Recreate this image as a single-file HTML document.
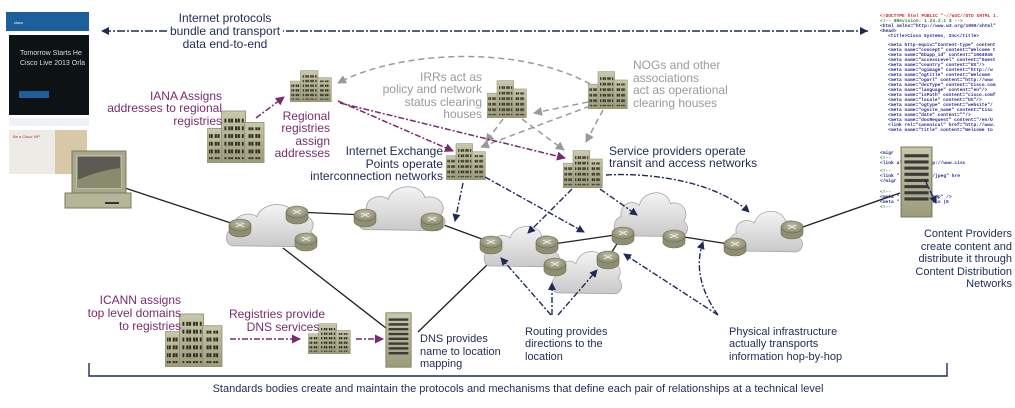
<!DOCTYPE html>
<html><head><meta charset="utf-8"><style>
html,body{margin:0;padding:0;background:#fff;}
svg{display:block;font-family:"Liberation Sans",sans-serif;}
.n{fill:#1f2b55;font-size:12px;}
.p{fill:#7b2a6f;font-size:12px;}
.g{fill:#9a9a9a;font-size:12px;}
.s{fill:#1f2b55;font-size:11px;}
.code{font-family:"Liberation Mono",monospace;font-size:4.6px;fill:#2a2a90;font-weight:bold;}
</style></head><body>
<svg width="1015" height="408" viewBox="0 0 1015 408" xmlns="http://www.w3.org/2000/svg">
<defs>
<linearGradient id="bg" x1="0" y1="0" x2="0" y2="1"><stop offset="0" stop-color="#c8c8aa"/><stop offset="1" stop-color="#9c9c7c"/></linearGradient>
<linearGradient id="cg" x1="0" y1="0" x2="0" y2="1"><stop offset="0" stop-color="#f4f4f4"/><stop offset="1" stop-color="#c9c9c9"/></linearGradient>
<radialGradient id="rg" cx="0.5" cy="0.4" r="0.6"><stop offset="0" stop-color="#c4c4aa"/><stop offset="1" stop-color="#85856a"/></radialGradient>
<pattern id="win" x="0" y="0" width="7" height="8" patternUnits="userSpaceOnUse"><rect x="1" y="1" width="2.2" height="4" fill="#2e2e22"/><rect x="3.8" y="1" width="2.2" height="4" fill="#2e2e22"/></pattern>
<symbol id="bld" viewBox="0 0 60 55" preserveAspectRatio="none">
<rect x="0" y="19" width="16" height="36" fill="url(#bg)" stroke="#8c8c70" stroke-width="0.8"/>
<rect x="15" y="1" width="25" height="54" fill="url(#bg)" stroke="#8c8c70" stroke-width="0.8"/>
<rect x="39" y="13" width="20" height="42" fill="url(#bg)" stroke="#8c8c70" stroke-width="0.8"/>
<rect x="18" y="6" width="20" height="45" fill="url(#win)"/>
<rect x="2" y="24" width="13" height="27" fill="url(#win)"/>
<rect x="42" y="18" width="15" height="33" fill="url(#win)"/>
</symbol>
<symbol id="srv" viewBox="0 0 30 70" preserveAspectRatio="none">
<rect x="1" y="1" width="28" height="68" fill="url(#bg)" stroke="#7a7a60"/>
<g fill="#3a3a3a"><rect x="4" y="8" width="22" height="3"/><rect x="4" y="14" width="22" height="3"/><rect x="4" y="20" width="22" height="3"/><rect x="4" y="26" width="22" height="3"/><rect x="4" y="32" width="22" height="3"/><rect x="4" y="38" width="22" height="3"/><rect x="4" y="44" width="22" height="3"/><rect x="4" y="50" width="22" height="3"/></g>
</symbol>
<symbol id="cloud" viewBox="0 0 100 60" preserveAspectRatio="none">
<path d="M10,55 C0,55 0,35 12,33 C8,20 25,12 35,20 C40,2 70,0 75,18 C90,14 100,28 92,38 C102,45 95,58 85,56 Z" fill="url(#cg)" stroke="#a8a8a8" stroke-width="1"/>
</symbol>
<symbol id="rt" viewBox="0 0 24 20">
<path d="M1,7 v6 a11,6 0 0 0 22,0 v-6" fill="#8e8e72" stroke="#6e6e58" stroke-width="0.6"/>
<ellipse cx="12" cy="7" rx="11" ry="6" fill="url(#rg)" stroke="#6e6e58" stroke-width="0.6"/>
<path d="M8,5 l8,4 M16,5 l-8,4" stroke="#eee" stroke-width="0.8"/>
</symbol>
<marker id="an" markerWidth="8" markerHeight="8" refX="7" refY="4" orient="auto" markerUnits="userSpaceOnUse"><path d="M0,0 L8,4 L0,8 Z" fill="#1f2b55"/></marker>
<marker id="ap" markerWidth="9" markerHeight="9" refX="8" refY="4.5" orient="auto" markerUnits="userSpaceOnUse"><path d="M0,0 L9,4.5 L0,9 Z" fill="#7b2a6f"/></marker>
<marker id="ag" markerWidth="9" markerHeight="9" refX="8" refY="4.5" orient="auto" markerUnits="userSpaceOnUse"><path d="M0,0 L9,4.5 L0,9 Z" fill="#999"/></marker>
</defs>

<!-- web page screenshot -->
<rect x="6" y="12" width="83" height="19" fill="#1d5f9a"/>
<text x="14" y="24" font-size="4" fill="#fff">cisco</text>
<rect x="9" y="35" width="80" height="80" fill="#0d1214"/>
<text x="20" y="55" font-size="7" fill="#ddd">Tomorrow Starts He</text>
<text x="20" y="65" font-size="7" fill="#ddd">Cisco Live 2013 Orla</text>
<rect x="19" y="91" width="30" height="7" fill="#1d5f9a"/>
<rect x="9" y="118" width="80" height="8" fill="#eef2f6"/>
<rect x="9" y="130" width="78" height="44" fill="#ecebe6"/>
<rect x="55" y="130" width="32" height="44" fill="#d8c8a8"/>
<text x="13" y="138" font-size="4" fill="#b0302a">Be a Cisco VIP</text>

<!-- code screenshot -->
<g class="code">
<text x="880" y="17" fill="#d03030">&lt;!DOCTYPE html PUBLIC "-//W3C//DTD XHTML 1.</text>
<text x="880" y="22" fill="#2a8a2a">&lt;!-- $Revision: 1.24.2.1 $ --&gt;</text>
<text x="880" y="27">&lt;html xmlns="http://www.w3.org/1999/xhtml"</text>
<text x="880" y="32">&lt;head&gt;</text>
<text x="888" y="37">&lt;title&gt;Cisco Systems, Inc&lt;/title&gt;</text>
<text x="888" y="46">&lt;meta http-equiv="Content-type" content</text>
<text x="888" y="51">&lt;meta name="concept" content="Welcome t</text>
<text x="888" y="56">&lt;meta name="Ebapp_id" content="1664946</text>
<text x="888" y="61">&lt;meta name="accessLevel" content="Guest</text>
<text x="888" y="66">&lt;meta name="country" content="US"/&gt;</text>
<text x="888" y="71">&lt;meta name="ogimage" content="http://w</text>
<text x="888" y="76">&lt;meta name="ogtitle" content="Welcome</text>
<text x="888" y="81">&lt;meta name="ogurl" content="http://www</text>
<text x="888" y="86">&lt;meta name="docType" content="Cisco.com</text>
<text x="888" y="91">&lt;meta name="language" content="en"/&gt;</text>
<text x="888" y="96">&lt;meta name="isPath" content="cisco.comf</text>
<text x="888" y="101">&lt;meta name="locale" content="US"/&gt;</text>
<text x="888" y="106">&lt;meta name="ogtype" content="website"/</text>
<text x="888" y="111">&lt;meta name="ogsite_name" content="Cisc</text>
<text x="888" y="116">&lt;meta name="date" content=""/&gt;</text>
<text x="888" y="121">&lt;meta name="docRequest" content="/en/U</text>
<text x="888" y="126">&lt;link rel="canonical" href="http://www.</text>
<text x="888" y="131">&lt;meta name="title" content="Welcome to</text>
<text x="880" y="154">&lt;migr</text>
<text x="880" y="159" fill="#2a8a2a">&lt;!--</text>
<text x="880" y="164">&lt;link          al" href="http://www.cisc</text>
<text x="880" y="172" fill="#2a8a2a">&lt;!--</text>
<text x="880" y="177">&lt;link          " type="image/jpeg" hre</text>
<text x="880" y="182">&lt;/migr</text>
<text x="880" y="193" fill="#2a8a2a">&lt;!--</text>
<text x="880" y="198">&lt;meta          " content="noodp" /&gt;</text>
<text x="880" y="203">&lt;meta          " content="Cisco (E</text>
<text x="880" y="208" fill="#2a8a2a">&lt;!--</text>
</g>

<!-- top arrow -->
<path d="M868,31 L283,31 M167,31 L102,31" stroke="#1f2b55" stroke-width="1.6" stroke-dasharray="8,2,2,2" fill="none"/>
<path d="M868,31 L860,27 L860,35 Z" fill="#1f2b55"/>
<path d="M101,31 L109,27 L109,35 Z" fill="#1f2b55"/>
<text class="n" x="225" y="22" text-anchor="middle">Internet protocols</text>
<text class="n" x="225" y="35" text-anchor="middle">bundle and transport</text>
<text class="n" x="225" y="48" text-anchor="middle">data end-to-end</text>

<!-- black links -->
<g stroke="#222" stroke-width="1.3" fill="none">
<path d="M125,188 L240,226"/>
<path d="M296,212 L365,215"/>
<path d="M441,224 L490,242"/>
<path d="M283,248 L391,332"/>
<path d="M418,332 L490,262"/>
<path d="M553,244 L622,234"/>
<path d="M622,236 L608,258"/>
<path d="M684,237 L735,245"/>
<path d="M800,228 L900,193"/>
</g>

<!-- clouds -->
<use href="#cloud" x="224" y="200" width="94" height="50"/>
<use href="#cloud" x="356" y="182" width="92" height="52"/>
<use href="#cloud" x="482" y="222" width="80" height="48"/>
<use href="#cloud" x="550" y="247" width="74" height="50"/>
<use href="#cloud" x="612" y="188" width="78" height="52"/>
<use href="#cloud" x="727" y="207" width="78" height="48"/>
<!-- routers -->
<use href="#rt" x="228" y="218" width="24" height="20"/>
<use href="#rt" x="285" y="205" width="24" height="20"/>
<use href="#rt" x="294" y="232" width="24" height="20"/>
<use href="#rt" x="353" y="208" width="24" height="20"/>
<use href="#rt" x="420" y="212" width="24" height="20"/>
<use href="#rt" x="479" y="235" width="24" height="20"/>
<use href="#rt" x="535" y="235" width="24" height="20"/>
<use href="#rt" x="543" y="257" width="24" height="20"/>
<use href="#rt" x="596" y="250" width="24" height="20"/>
<use href="#rt" x="611" y="226" width="24" height="20"/>
<use href="#rt" x="662" y="229" width="24" height="20"/>
<use href="#rt" x="723" y="237" width="24" height="20"/>
<use href="#rt" x="780" y="220" width="24" height="20"/>

<!-- laptop -->
<rect x="72" y="151" width="54" height="42" fill="#a8a88a" stroke="#7a7a60"/>
<rect x="77" y="156" width="44" height="32" fill="#5a5a52" stroke="#ddd" stroke-width="0.8"/>
<path d="M77,180 Q100,170 121,168 L121,188 L77,188 Z" fill="#8a8a6c"/>
<rect x="65" y="193" width="66" height="15" fill="#b5b598" stroke="#7a7a60"/>
<rect x="105" y="202" width="14" height="2" fill="#333"/>

<!-- buildings -->
<use href="#bld" x="207" y="110" width="58" height="53"/>
<use href="#bld" x="290" y="70" width="42" height="32"/>
<use href="#bld" x="487" y="80" width="40" height="38"/>
<use href="#bld" x="588" y="71" width="40" height="38"/>
<use href="#bld" x="446" y="143" width="40" height="37"/>
<use href="#bld" x="563" y="150" width="40" height="38"/>
<use href="#bld" x="165" y="313" width="58" height="54"/>
<use href="#bld" x="308" y="323" width="43" height="31"/>
<!-- servers -->
<use href="#srv" x="900" y="146" width="33" height="72"/>
<use href="#srv" x="385" y="312" width="27" height="56"/>

<!-- gray dashed -->
<g stroke="#9a9a9a" stroke-width="1.5" stroke-dasharray="6,4" fill="none" marker-end="url(#ag)">
<path d="M590,84 C520,45 400,50 338,83"/>
<path d="M588,102 L534,113"/>
<path d="M590,106 L481,147"/>
<path d="M603,110 L586,142"/>
<path d="M503,119 L486,142"/>
<path d="M522,119 L564,150"/>
</g>

<!-- purple -->
<g stroke="#7b2a6f" stroke-width="1.5" stroke-dasharray="6,2,2,2" fill="none" marker-end="url(#ap)">
<path d="M256,118 L284,97"/>
<path d="M338,101 L453,151"/>
<path d="M340,103 L565,158"/>
<path d="M230,339 L300,339"/>
<path d="M356,339 L383,339"/>
</g>

<!-- navy dash-dot -->
<g stroke="#1f2b55" stroke-width="1.4" stroke-dasharray="6,2,2,2" fill="none" marker-end="url(#an)">
<path d="M463,183 L455,221"/>
<path d="M485,177 L584,232"/>
<path d="M572,189 L528,233"/>
<path d="M600,189 L637,215"/>
<path d="M606,175 C660,172 720,185 749,212"/>
<path d="M551,315 L501,258"/>
<path d="M552,315 L552,283"/>
<path d="M558,315 L597,270"/>
<path d="M718,315 L624,254"/>
<path d="M718,315 C700,290 695,265 703,242"/>
<path d="M925,180 L936,203"/>
</g>

<!-- texts -->
<text class="p" x="222" y="100" text-anchor="end">IANA Assigns</text>
<text class="p" x="222" y="112" text-anchor="end">addresses to regional</text>
<text class="p" x="222" y="125" text-anchor="end">registries</text>
<text class="p" x="330" y="120" text-anchor="end">Regional</text>
<text class="p" x="330" y="132" text-anchor="end">registries</text>
<text class="p" x="330" y="145" text-anchor="end">assign</text>
<text class="p" x="330" y="157" text-anchor="end">addresses</text>
<text class="g" x="482" y="81" text-anchor="end">IRRs act as</text>
<text class="g" x="482" y="93" text-anchor="end">policy and network</text>
<text class="g" x="482" y="106" text-anchor="end">status clearing</text>
<text class="g" x="482" y="118" text-anchor="end">houses</text>
<text class="g" x="633" y="69">NOGs and other</text>
<text class="g" x="633" y="82">associations</text>
<text class="g" x="633" y="94">act as operational</text>
<text class="g" x="633" y="107">clearing houses</text>
<text class="n" x="443" y="155" text-anchor="end">Internet Exchange</text>
<text class="n" x="443" y="168" text-anchor="end">Points operate</text>
<text class="n" x="443" y="180" text-anchor="end">interconnection networks</text>
<text class="n" x="609" y="155">Service providers operate</text>
<text class="n" x="609" y="167">transit and access networks</text>
<text class="s" x="1012" y="237" text-anchor="end">Content Providers</text>
<text class="s" x="1012" y="250" text-anchor="end">create content and</text>
<text class="s" x="1012" y="262" text-anchor="end">distribute it through</text>
<text class="s" x="1012" y="275" text-anchor="end">Content Distribution</text>
<text class="s" x="1012" y="287" text-anchor="end">Networks</text>
<text class="p" x="181" y="304" text-anchor="end" font-size="11">ICANN assigns</text>
<text class="p" x="181" y="317" text-anchor="end" font-size="11">top level domains</text>
<text class="p" x="181" y="330" text-anchor="end" font-size="11">to registries</text>
<text class="p" x="277" y="318" text-anchor="middle" font-size="11">Registries provide</text>
<text class="p" x="283" y="331" text-anchor="middle" font-size="11">DNS services</text>
<text class="s" x="420" y="342">DNS provides</text>
<text class="s" x="420" y="355">name to location</text>
<text class="s" x="420" y="367">mapping</text>
<text class="s" x="525" y="335">Routing provides</text>
<text class="s" x="525" y="347">directions to the</text>
<text class="s" x="525" y="360">location</text>
<text class="s" x="729" y="335">Physical infrastructure</text>
<text class="s" x="729" y="347">actually transports</text>
<text class="s" x="729" y="360">information hop-by-hop</text>

<!-- bracket -->
<path d="M89,363 L89,376 L947,376 L947,363" stroke="#1f2b55" stroke-width="1.4" fill="none"/>
<text class="s" x="518" y="392" text-anchor="middle">Standards bodies create and maintain the protocols and mechanisms that define each pair of relationships at a technical level</text>
</svg>
</body></html>
